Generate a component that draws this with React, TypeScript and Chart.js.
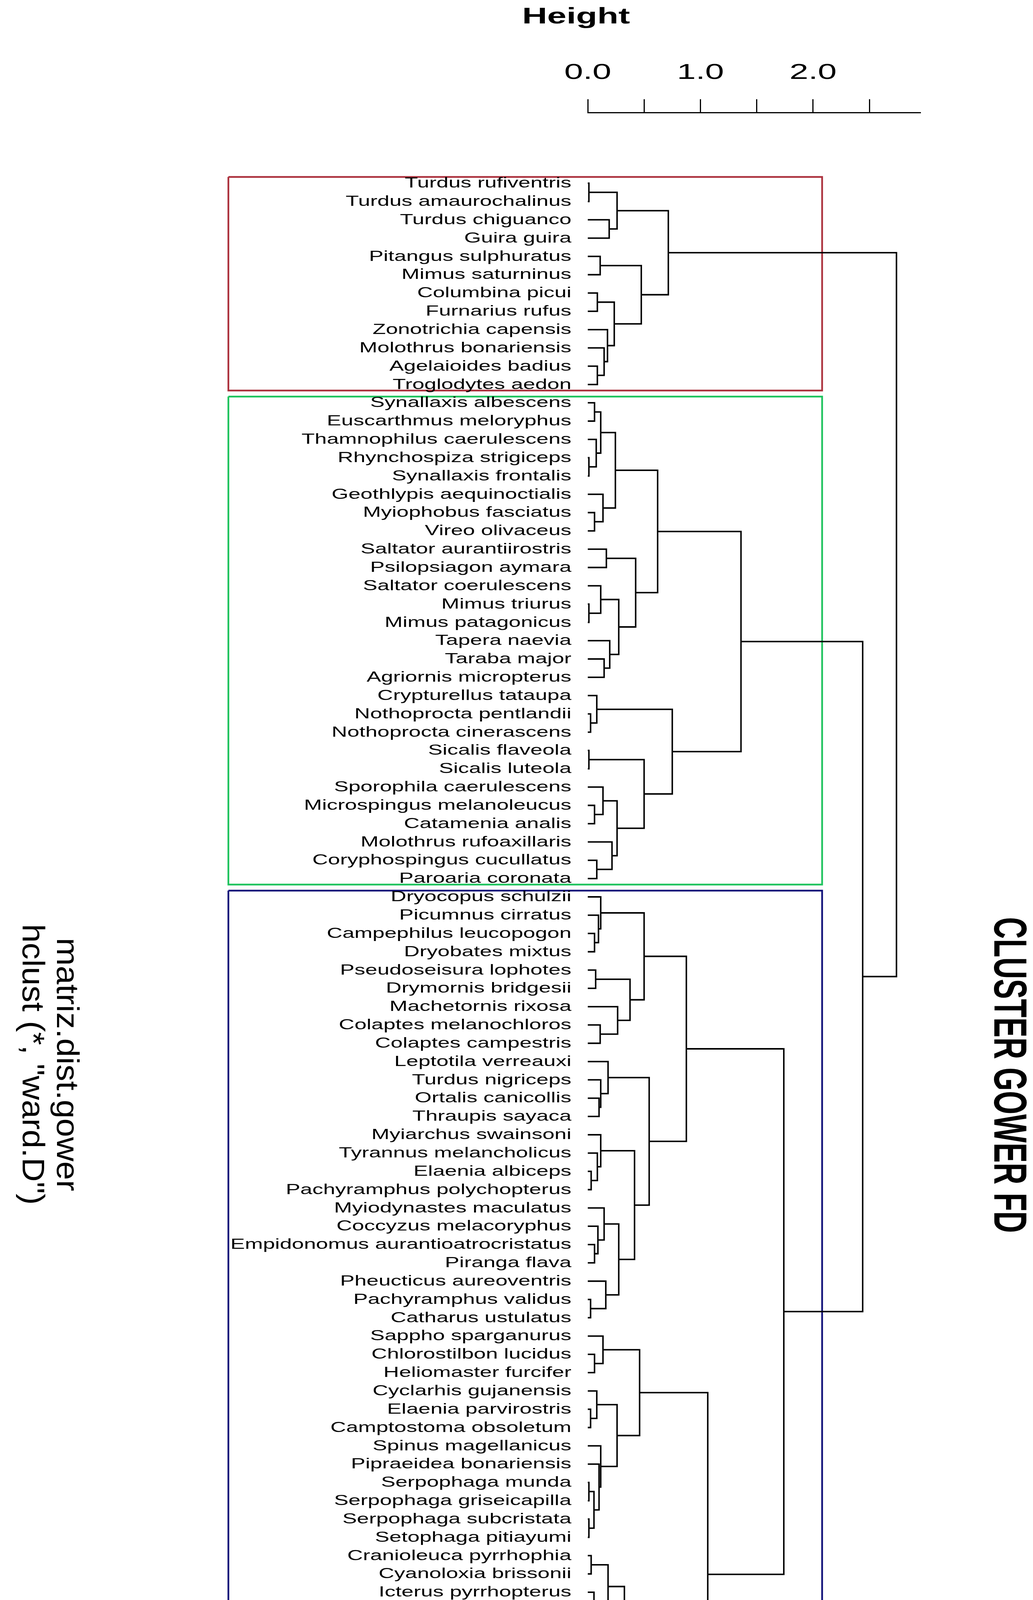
import React, { useEffect, useRef } from 'react';
import { Chart, registerables } from 'chart.js';

Chart.register(...registerables);

// ---------- data ----------
const leafLabels = [
  'Turdus rufiventris', 'Turdus amaurochalinus', 'Turdus chiguanco', 'Guira guira',
  'Pitangus sulphuratus', 'Mimus saturninus', 'Columbina picui', 'Furnarius rufus',
  'Zonotrichia capensis', 'Molothrus bonariensis', 'Agelaioides badius', 'Troglodytes aedon',
  'Synallaxis albescens', 'Euscarthmus meloryphus', 'Thamnophilus caerulescens', 'Rhynchospiza strigiceps',
  'Synallaxis frontalis', 'Geothlypis aequinoctialis', 'Myiophobus fasciatus', 'Vireo olivaceus',
  'Saltator aurantiirostris', 'Psilopsiagon aymara', 'Saltator coerulescens', 'Mimus triurus',
  'Mimus patagonicus', 'Tapera naevia', 'Taraba major', 'Agriornis micropterus',
  'Crypturellus tataupa', 'Nothoprocta pentlandii', 'Nothoprocta cinerascens', 'Sicalis flaveola',
  'Sicalis luteola', 'Sporophila caerulescens', 'Microspingus melanoleucus', 'Catamenia analis',
  'Molothrus rufoaxillaris', 'Coryphospingus cucullatus', 'Paroaria coronata',
  'Dryocopus schulzii', 'Picumnus cirratus', 'Campephilus leucopogon', 'Dryobates mixtus',
  'Pseudoseisura lophotes', 'Drymornis bridgesii', 'Machetornis rixosa', 'Colaptes melanochloros',
  'Colaptes campestris', 'Leptotila verreauxi', 'Turdus nigriceps', 'Ortalis canicollis',
  'Thraupis sayaca', 'Myiarchus swainsoni', 'Tyrannus melancholicus', 'Elaenia albiceps',
  'Pachyramphus polychopterus', 'Myiodynastes maculatus', 'Coccyzus melacoryphus',
  'Empidonomus aurantioatrocristatus', 'Piranga flava', 'Pheucticus aureoventris',
  'Pachyramphus validus', 'Catharus ustulatus', 'Sappho sparganurus', 'Chlorostilbon lucidus',
  'Heliomaster furcifer', 'Cyclarhis gujanensis', 'Elaenia parvirostris', 'Camptostoma obsoletum',
  'Spinus magellanicus', 'Pipraeidea bonariensis', 'Serpophaga munda', 'Serpophaga griseicapilla',
  'Serpophaga subcristata', 'Setophaga pitiayumi', 'Cranioleuca pyrrhophia', 'Cyanoloxia brissonii',
  'Icterus pyrrhopterus', 'Polioptila dumicola', 'Suiriri suiriri', 'Sublegatus modestus',
  'Lepidocolaptes angustirostris', 'Leptasthenura platensis', 'Nystalus maculatus',
  'Hemitriccus margaritaceiventer', 'Myioborus brunniceps', 'Anairetes flavirostris',
  'Poospiza whitii', 'Stigmatura budytoides', 'Rhinocrypta lanceolata', 'Melanerpes cactorum',
  'Phytotoma rutila', 'Saltatricula multicolor', 'Melanopareia maximiliani',
  'Tarphonomus certhioides', 'Furnarius cristatus', 'Coryphistera alaudina', 'Asthenes baeri',
];

// hclust-style merge table: negative = leaf (1-based), positive = earlier merge (1-based)
const mergeLeft = [
  -1, -3, 1, -5, -7, -11, -10, -9, 5, 4, 3,
  -13, -16, -15, 12, -19, -18, 15, -21, -24, -23, -27, -26, 21, 19, 18,
  -30, -29, -32, -35, -34, -38, -37, 31, 29, 28, 26,
  -42, -41, -40, -44, -47, -46, 41, 40, -51, -50, -49, -55, -54, -53,
  -59, -58, -57, -62, -61, 54, 51, 48, 45,
  -65, -64, -68, -67, -72, -74, 65, -71, -70, 64, 62,
  -76, -80, -79, -78, 72, -83, -82, -85, -88, -87, 79, 78, 76,
  -91, -90, -93, -97, -96, -95, 87, 86, 84, 71, 60, 37, 11,
];
const mergeRight = [
  -2, -4, 2, -6, -8, -12, 6, 7, 8, 9, 10,
  -14, -17, 13, 14, -20, 16, 17, -22, -25, 20, -28, 22, 23, 24, 25,
  -31, 27, -33, -36, 30, -39, 32, 33, 34, 35, 36,
  -43, 38, 39, -45, -48, 42, 43, 44, -52, 46, 47, -56, 49, 50,
  -60, 52, 53, -63, 55, 56, 57, 58, 59,
  -66, 61, -69, 63, -73, -75, 66, 67, 68, 69, 70,
  -77, -81, 73, 74, 75, -84, 77, -86, -89, 80, 81, 82, 83,
  -92, 85, -94, -98, 88, 89, 90, 91, 92, 93, 94, 95, 96,
];
const mergeHeight = [
  0.01, 0.19, 0.26, 0.11, 0.085, 0.085, 0.145, 0.175, 0.235, 0.475, 0.715,
  0.06, 0.01, 0.075, 0.115, 0.06, 0.135, 0.245, 0.165, 0.01, 0.115, 0.145, 0.195, 0.275, 0.425, 0.62,
  0.025, 0.08, 0.01, 0.06, 0.135, 0.08, 0.215, 0.26, 0.5, 0.75, 1.36,
  0.06, 0.095, 0.115, 0.07, 0.11, 0.265, 0.375, 0.5, 0.1, 0.115, 0.18, 0.03, 0.085, 0.115,
  0.06, 0.09, 0.145, 0.025, 0.16, 0.275, 0.415, 0.545, 0.875,
  0.06, 0.135, 0.025, 0.08, 0.01, 0.01, 0.055, 0.1, 0.115, 0.26, 0.46,
  0.03, 0.01, 0.04, 0.055, 0.18, 0.06, 0.09, 0.08, 0.06, 0.09, 0.15, 0.235, 0.325,
  0.165, 0.21, 0.03, 0.06, 0.09, 0.16, 0.26, 0.39, 0.54, 1.065, 1.74, 2.44, 2.74,
];

// rect.hclust boxes (k = 3)
const clusterFirstLeaf = [1, 13, 40];
const clusterLastLeaf = [12, 39, 98];
const clusterColors = ['#ac323e', '#1fc35e', '#12127a'];

const heightTicks = [0, 0.5, 1, 1.5, 2, 2.5];
const heightTickLabels = ['0.0', '', '1.0', '', '2.0', ''];
const axisTitle = 'Height';
const sideTitle = 'CLUSTER GOWER FD';
const subTitleLines = ['matriz.dist.gower', 'hclust (*, "ward.D")'];

// ---------- layout constants ----------
const W = 2645;
const H = 5058;
const PLOT_LEFT = 1505;
const PLOT_RIGHT = 2356;
const AXIS_Y = 288;
const X_MAX = 2.95;
const Y_MIN = -2.864;
const Y_MAX = 98.96;
const BOX_LEFT = -3.19;
const BOX_RIGHT = 2.08;

function buildDatasets() {
  const nodes: { x: number; y: number }[] = [];
  const pos = (ref: number) => (ref < 0 ? { x: 0, y: -ref } : nodes[ref - 1]);
  const sets: any[] = [];
  for (let i = 0; i < mergeHeight.length; i++) {
    const a = pos(mergeLeft[i]);
    const b = pos(mergeRight[i]);
    const h = mergeHeight[i];
    nodes.push({ x: h, y: (a.y + b.y) / 2 });
    sets.push({
      data: [
        { x: a.x, y: a.y },
        { x: h, y: a.y },
        { x: h, y: b.y },
        { x: b.x, y: b.y },
      ],
      borderColor: '#000000',
      borderWidth: 3.8,
      pointRadius: 0,
      fill: false,
      tension: 0,
      clip: false,
      order: 1,
    });
  }
  for (let k = 0; k < clusterFirstLeaf.length; k++) {
    const top = clusterFirstLeaf[k] - 0.34;
    const bot = clusterLastLeaf[k] + 0.33;
    sets.push({
      data: [
        { x: BOX_LEFT, y: top },
        { x: BOX_RIGHT, y: top },
        { x: BOX_RIGHT, y: bot },
        { x: BOX_LEFT, y: bot },
        { x: BOX_LEFT, y: top },
      ],
      borderColor: clusterColors[k],
      borderWidth: 4.5,
      pointRadius: 0,
      fill: false,
      tension: 0,
      clip: false,
      order: 2,
    });
  }
  return sets;
}

// draws text; sx = stretch along the text, sy = stretch across it
function stretchedText(
  ctx: CanvasRenderingContext2D, text: string, x: number, y: number, font: string,
  align: CanvasTextAlign, baseline: CanvasTextBaseline, rotate: boolean, sx: number, sy: number
) {
  ctx.save();
  ctx.translate(x, y);
  if (rotate) ctx.rotate(Math.PI / 2);
  ctx.scale(sx, sy);
  ctx.font = font;
  ctx.fillStyle = '#000000';
  ctx.textAlign = align;
  ctx.textBaseline = baseline;
  ctx.fillText(text, 0, 0);
  ctx.restore();
}

const textPlugin = {
  id: 'dendroText',
  afterDraw(chart: any) {
    const ctx: CanvasRenderingContext2D = chart.ctx;
    const xs = chart.scales.x;
    const ys = chart.scales.y;
    const x0 = xs.getPixelForValue(0);
    // leaf labels
    leafLabels.forEach((lab, i) => {
      const y = ys.getPixelForValue(i + 1);
      stretchedText(ctx, lab, x0 - 42, y + 1, '37px "Liberation Sans", Arial, sans-serif', 'right', 'middle', false, 1.5, 1);
    });
    // tick labels
    heightTicks.forEach((v, i) => {
      const t = heightTickLabels[i];
      if (!t) return;
      stretchedText(ctx, t, xs.getPixelForValue(v), 187, '56px "Liberation Sans", Arial, sans-serif', 'center', 'middle', false, 1.55, 1);
    });
    // axis title
    stretchedText(ctx, axisTitle, 1475, 44, 'bold 58px "Liberation Sans", Arial, sans-serif', 'center', 'middle', false, 1.53, 1);
    // side title (rotated clockwise)
    stretchedText(ctx, sideTitle, 2546, 2752, 'bold 77px "Liberation Sans", Arial, sans-serif', 'center', 'alphabetic', true, 1, 1.55);
    // sub title (rotated clockwise, first line on the right)
    stretchedText(ctx, subTitleLines[0], 146, 2725, '66px "Liberation Sans", Arial, sans-serif', 'center', 'alphabetic', true, 1.3, 1.2);
    stretchedText(ctx, subTitleLines[1], 58, 2725, '66px "Liberation Sans", Arial, sans-serif', 'center', 'alphabetic', true, 1.3, 1.2);
  },
};

export default function App() {
  const canvasRef = useRef<HTMLCanvasElement | null>(null);

  useEffect(() => {
    document.body.style.margin = '0';
    document.body.style.overflow = 'hidden';
    const canvas = canvasRef.current;
    if (!canvas) return;
    const chart = new Chart(canvas, {
      type: 'line',
      data: { datasets: buildDatasets() },
      options: {
        animation: false,
        responsive: false,
        devicePixelRatio: 1,
        layout: { padding: { left: PLOT_LEFT, right: W - PLOT_RIGHT, top: 0, bottom: 0 } },
        plugins: {
          legend: { display: false },
          tooltip: { enabled: false },
          title: { display: false },
        },
        events: [],
        scales: {
          x: {
            type: 'linear',
            position: 'top',
            min: 0,
            max: X_MAX,
            afterBuildTicks: (scale: any) => {
              scale.ticks = heightTicks.map((v) => ({ value: v }));
            },
            afterFit: (scale: any) => {
              scale.height = AXIS_Y;
            },
            ticks: { display: false },
            grid: {
              drawOnChartArea: false,
              drawTicks: true,
              tickLength: 34,
              color: '#000000',
              lineWidth: 3,
            },
            border: { display: true, color: '#000000', width: 3 },
          },
          y: {
            type: 'linear',
            reverse: true,
            min: Y_MIN,
            max: Y_MAX,
            display: false,
          },
        },
      } as any,
      plugins: [textPlugin],
    });
    return () => chart.destroy();
  }, []);

  return (
    <div style={{ width: W, height: H, background: '#ffffff' }}>
      <canvas ref={canvasRef} width={W} height={H} style={{ display: 'block', width: W, height: H }} />
    </div>
  );
}
